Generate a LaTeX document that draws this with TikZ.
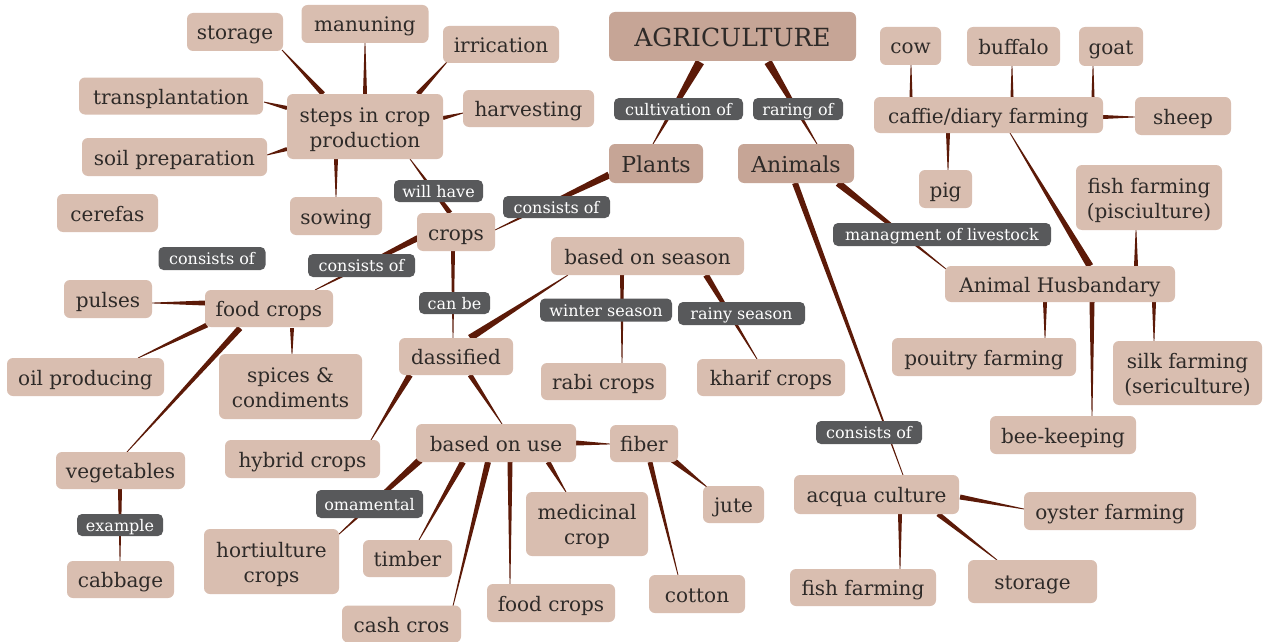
\documentclass[tikz,border=0pt]{standalone}
\usepackage{fontspec}
\setmainfont{DejaVu Serif}
\usetikzlibrary{calc}
\definecolor{nodefill}{HTML}{D9BEB0}
\definecolor{topfill}{HTML}{C6A596}
\definecolor{lblfill}{HTML}{58595B}
\definecolor{wedgecol}{HTML}{5C1A08}
\definecolor{txt}{HTML}{2E2A28}
\pgfdeclarelayer{background}
\pgfsetlayers{background,main}
% tapered connector: parent node, offset, child node, offset, half width at parent
\newcommand\conn[5]{%
  \path ($(#1.center)+(#2)$) coordinate (wA) ($(#3.center)+(#4)$) coordinate (wB);
  \begin{pgfonlayer}{background}
    \fill[wedgecol] ($(wA)!#5!90:(wB)$) -- ($(wB)!0.4pt!-90:(wA)$) -- ($(wB)!0.4pt!90:(wA)$) -- ($(wA)!#5!-90:(wB)$) -- cycle;
  \end{pgfonlayer}}
\begin{document}
\begin{tikzpicture}[x=1pt,y=-1pt,
  sz/.style 2 args={minimum width=#1pt,minimum height=#2pt},
  nd/.style={rectangle,rounded corners=6pt,fill=nodefill,text=txt,inner sep=0pt,align=center,
    font=\fontsize{20}{25}\selectfont,text height=18pt,text depth=2pt},
  two/.style={text height=43pt,text depth=2pt},
  topnd/.style={nd,fill=topfill,font=\fontsize{22}{26}\selectfont,text height=18pt,text depth=0pt},
  lbl/.style={rectangle,rounded corners=5pt,fill=lblfill,text=white,inner sep=0pt,align=center,
    font=\fontsize{16}{18}\selectfont,text height=12pt,text depth=0pt}]
\useasboundingbox (0,0) rectangle (1268,642);
\begin{pgfonlayer}{background}
\fill[white] (0,0) rectangle (1268,642);
\end{pgfonlayer}
% top
\node[topnd,sz={247}{49},font=\fontsize{25}{28}\selectfont,text height=20pt] (agr) at (732.5,36.5) {AGRICULTURE};
\node[topnd,sz={94}{39}] (plants) at (656,163.5) {Plants};
\node[topnd,sz={116}{39}] (animals) at (796,163.5) {Animals};
% animals side
\node[nd,sz={61}{38}] (cow) at (910.5,46) {cow};
\node[nd,sz={93}{39}] (buffalo) at (1013.5,46.5) {buffalo};
\node[nd,sz={64}{39}] (goat) at (1111,46.5) {goat};
\node[nd,sz={229}{36}] (caffie) at (988.5,115) {caffie/diary farming};
\node[nd,sz={96}{38}] (sheep) at (1183,116) {sheep};
\node[nd,sz={53}{38}] (pig) at (945.5,189) {pig};
\node[nd,two,sz={146}{65}] (pisc) at (1149,197.5) {fish farming\\(pisciulture)};
\node[nd,sz={230}{36}] (ah) at (1060,284) {Animal Husbandary};
\node[nd,sz={184}{38}] (pouitry) at (984,357) {pouitry farming};
\node[nd,two,sz={149}{64}] (silk) at (1187.5,373) {silk farming\\(sericulture)};
\node[nd,sz={146}{38}] (bee) at (1063,435) {bee-keeping};
\node[nd,sz={165}{39}] (acqua) at (876.5,494.5) {acqua culture};
\node[nd,sz={172}{38}] (oyster) at (1110,511) {oyster farming};
\node[nd,sz={146}{37}] (fishf) at (863,587.5) {fish farming};
\node[nd,sz={129}{43}] (storageB) at (1032.5,581.5) {storage};
% plants side
\node[nd,sz={96}{38}] (storageA) at (235,32) {storage};
\node[nd,sz={127}{38}] (manuning) at (365,24) {manuning};
\node[nd,sz={116}{37}] (irrication) at (501,44.5) {irrication};
\node[nd,sz={184}{37}] (transpl) at (171,96) {transplantation};
\node[nd,two,sz={156}{65}] (steps) at (365,126.5) {steps in crop\\production};
\node[nd,sz={131}{37}] (harvest) at (528.5,108.5) {harvesting};
\node[nd,sz={185}{38}] (soil) at (174.5,157) {soil preparation};
\node[nd,sz={101}{38}] (cerefas) at (107.5,213) {cerefas};
\node[nd,sz={92}{38}] (sowing) at (336,216) {sowing};
\node[nd,sz={78}{38}] (crops) at (456,232) {crops};
\node[nd,sz={193}{38}] (season) at (647.5,256) {based on season};
\node[nd,sz={88}{38}] (pulses) at (108,299) {pulses};
\node[nd,sz={128}{37}] (food) at (269,308.5) {food crops};
\node[nd,sz={157}{38}] (oil) at (85.5,377) {oil producing};
\node[nd,two,sz={143}{65}] (spices) at (290.5,386.5) {spices \&\\condiments};
\node[nd,sz={114}{37}] (dass) at (456,356.5) {dassified};
\node[nd,sz={125}{37}] (rabi) at (603.5,381.5) {rabi crops};
\node[nd,sz={148}{37}] (kharif) at (771,377.5) {kharif crops};
\node[nd,sz={155}{38}] (hybrid) at (302.5,459) {hybrid crops};
\node[nd,sz={160}{38}] (use) at (496,443) {based on use};
\node[nd,sz={68}{37}] (fiber) at (644,443.5) {fiber};
\node[nd,sz={129}{37}] (veg) at (120.5,470.5) {vegetables};
\node[nd,two,sz={122}{64}] (medic) at (587,524) {medicinal\\crop};
\node[nd,sz={61}{37}] (jute) at (733.5,504.5) {jute};
\node[nd,two,sz={135}{65}] (hort) at (271.5,561.5) {hortiulture\\crops};
\node[nd,sz={89}{37}] (timber) at (407.5,558.5) {timber};
\node[nd,sz={107}{37}] (cabbage) at (120.5,579.5) {cabbage};
\node[nd,sz={128}{38}] (foodB) at (551,603) {food crops};
\node[nd,sz={96}{38}] (cotton) at (697,594) {cotton};
\node[nd,sz={119}{37}] (cash) at (401.5,624) {cash cros};
% connectors
\conn{agr}{-32.5,25.5}{plants}{-3,-19.5}{4.5pt}
\conn{agr}{35.5,25.5}{animals}{21,-19.5}{4pt}
\conn{plants}{-47,11.5}{crops}{39,-2}{3.5pt}
\conn{crops}{-6,-19}{steps}{45,32.5}{2.5pt}
\conn{crops}{-38,6}{food}{46,-18.5}{3pt}
\conn{crops}{-3,19}{dass}{-3,-18.5}{2pt}
\conn{steps}{-42,-32.5}{storageA}{47,18}{2.5pt}
\conn{steps}{0,-32.5}{manuning}{0,19}{2pt}
\conn{steps}{53,-32.5}{irrication}{-54,17.5}{2.5pt}
\conn{steps}{-78,-18.5}{transpl}{93,6}{2pt}
\conn{steps}{-78,22.5}{soil}{92.5,-2}{2pt}
\conn{steps}{-29,32.5}{sowing}{0,-19}{2pt}
\conn{steps}{78,-8.5}{harvest}{-65.5,4.5}{2pt}
\conn{food}{-64,-5.5}{pulses}{44,4}{2.5pt}
\conn{food}{-62,16.5}{oil}{52.5,-19}{2.5pt}
\conn{food}{-29,19.5}{veg}{6.5,-18.5}{3pt}
\conn{food}{23,19.5}{spices}{1.5,-32.5}{2pt}
\conn{veg}{-0.5,18.5}{cabbage}{-0.5,-18.5}{2pt}
\conn{dass}{-46,18.5}{hybrid}{68.5,-19}{3pt}
\conn{dass}{14,-18.5}{season}{-79.5,19}{3.5pt}
\conn{dass}{14,18.5}{use}{6,-19}{2.5pt}
\conn{season}{-25.5,19}{rabi}{18.5,-18.5}{2pt}
\conn{season}{58.5,19}{kharif}{-14,-18.5}{3pt}
\conn{use}{80,0}{fiber}{-34,0.5}{2.5pt}
\conn{use}{-76,17}{hort}{66.5,-26.5}{3.5pt}
\conn{use}{-33,19}{timber}{11.5,-18.5}{3pt}
\conn{use}{-8,19}{cash}{51.5,-18}{3pt}
\conn{use}{14,19}{foodB}{-41,-19}{2.5pt}
\conn{use}{52,19}{medic}{-21,-32}{2.5pt}
\conn{fiber}{29,16.5}{jute}{-26.5,-17.5}{3pt}
\conn{fiber}{6,18.5}{cotton}{-19,-19}{2.5pt}
\conn{animals}{42,19.5}{ah}{-114,-15}{3.5pt}
\conn{animals}{-1,19.5}{acqua}{26.5,-19.5}{3pt}
\conn{ah}{30,-18}{caffie}{21.5,18}{3.5pt}
\conn{ah}{76,-18}{pisc}{-13,32.5}{2pt}
\conn{ah}{-15,18}{pouitry}{61,-19}{2pt}
\conn{ah}{32,18}{bee}{29,-19}{2.5pt}
\conn{ah}{94,18}{silk}{-33.5,-32}{2pt}
\conn{caffie}{-77.5,-18}{cow}{0.5,19}{1.5pt}
\conn{caffie}{23.5,-18}{buffalo}{-1.5,19.5}{1.5pt}
\conn{caffie}{104.5,-18}{goat}{-18,19.5}{1.5pt}
\conn{caffie}{114.5,2}{sheep}{-48,1}{2pt}
\conn{caffie}{-40.5,18}{pig}{2.5,-19}{2pt}
\conn{acqua}{83.5,2.5}{oyster}{-86,-2}{2.5pt}
\conn{acqua}{23.5,19.5}{fishf}{37,-18.5}{2pt}
\conn{acqua}{61.5,19.5}{storageB}{-35.5,-21.5}{2.5pt}
% connector labels
\node[lbl,sz={129}{22}] (cultof) at (678.5,109) {cultivation of};
\node[lbl,sz={90}{22}] (raring) at (798,109) {raring of};
\node[lbl,sz={218}{23}] (mgmt) at (942,234.5) {managment of livestock};
\node[lbl,sz={106}{23}] (consA) at (869,432.5) {consists of};
\node[lbl,sz={89}{22}] (willhave) at (438.5,191) {will have};
\node[lbl,sz={107}{22}] (consP) at (556.5,207) {consists of};
\node[lbl,sz={107}{23}] (consF) at (212,258.5) {consists of};
\node[lbl,sz={107}{23}] (consC) at (361.5,265.5) {consists of};
\node[lbl,sz={71}{22}] (canbe) at (454.5,303) {can be};
\node[lbl,sz={132}{23}] (winter) at (606,310) {winter season};
\node[lbl,sz={127}{23}] (rainy) at (741.5,313.5) {rainy season};
\node[lbl,sz={86}{22}] (example) at (120,525) {example};
\node[lbl,sz={107}{28}] (omam) at (369.5,504) {omamental};
\end{tikzpicture}
\end{document}
